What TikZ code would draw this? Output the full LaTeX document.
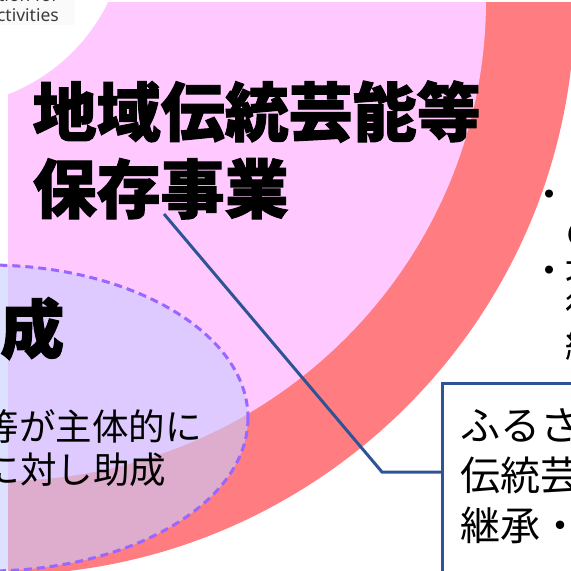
\documentclass[tikz,border=0pt]{standalone}
\usepackage{fontspec}
\newfontfamily\jp{Noto Sans CJK JP}[BoldFeatures={FakeBold=1.6}]
\newfontfamily\lat{Noto Sans}
\definecolor{ringred}{RGB}{255,124,128}
\definecolor{ringpink}{RGB}{255,201,255}
\definecolor{lav}{RGB}{200,204,255}
\definecolor{dashpurple}{RGB}{153,102,255}
\definecolor{linkblue}{RGB}{47,84,150}
\definecolor{graytext}{RGB}{60,60,60}
\begin{document}
\begin{tikzpicture}[x=1pt,y=-1pt,
  txt/.style={inner sep=0pt, anchor=base west},
  title/.style={txt, font=\jp\bfseries\fontsize{64}{64}\selectfont},
  body/.style={txt, font=\jp\fontsize{36.5}{36.5}\selectfont},
  boxtxt/.style={txt, font=\jp\fontsize{40}{40}\selectfont},
  bul/.style={txt, font=\jp\fontsize{38}{38}\selectfont},
  eng/.style={inner sep=0pt, anchor=base east, text=graytext, font=\lat\fontsize{17.5}{20}\selectfont},
  link/.style={draw=linkblue, line width=3pt},
  bubble/.style={fill=lav, fill opacity=0.6, draw=dashpurple, line width=3pt, dash pattern=on 8pt off 5pt}]
\useasboundingbox (0,0) rectangle (571,571);
\clip (0,0) rectangle (571,571);
% rings
\fill[ringred] (0,0) circle[radius=575];
\fill[ringpink] (0,0) ellipse[x radius=486, y radius=481];
\fill[white] (-60,-80) circle[radius=187];
\fill[white] (-10,80) rectangle (8,600);
\fill[white] (-10,-10) rectangle (580,1.5);
\fill[black!2] (-5,-5) rectangle (75,25);
% english label
\node[eng] (jf1) at (59,1.5) {ation for};
\node[eng] (jf2) at (59,21) {ctivities};
% connector and box
\node[draw=linkblue, line width=3pt, fill=white, minimum width=300pt, minimum height=300pt, anchor=north west, inner sep=0pt] (box) at (441,382) {};
\coordinate (c1) at (164,214);
\coordinate (c2) at (382,472);
\draw[link] (c1) -- (c2) -- (c2 -| box.west);
% bubble
\path[bubble] (-12,418) ellipse[x radius=260, y radius=153];
% titles
\node[title] (t1) at (32.5,136) {地域伝統芸能等};
\node[title] (t2) at (32.5,213) {保存事業};
\node[title] (s1) at (0,353) {成};
\node[body] (b1) at (-17.5,440) {等が主体的に};
\node[body] (b2) at (-16.5,483) {に対し助成};
% box text
\node[boxtxt] (k1) at (460,440.5) {ふるさ};
\node[boxtxt] (k2) at (460,490.5) {伝統芸};
\node[boxtxt] (k3) at (460,540.5) {継承・};
% bullets
\node[bul] (p1) at (530,208) {・};
\node[bul] (p1b) at (565,246) {の};
\node[bul] (p2) at (530,284) {・};
\node[bul] (p2a) at (565,284) {地};
\node[bul] (p2b) at (565,322) {後};
\node[bul] (p2c) at (565,360) {継};
\end{tikzpicture}
\end{document}
